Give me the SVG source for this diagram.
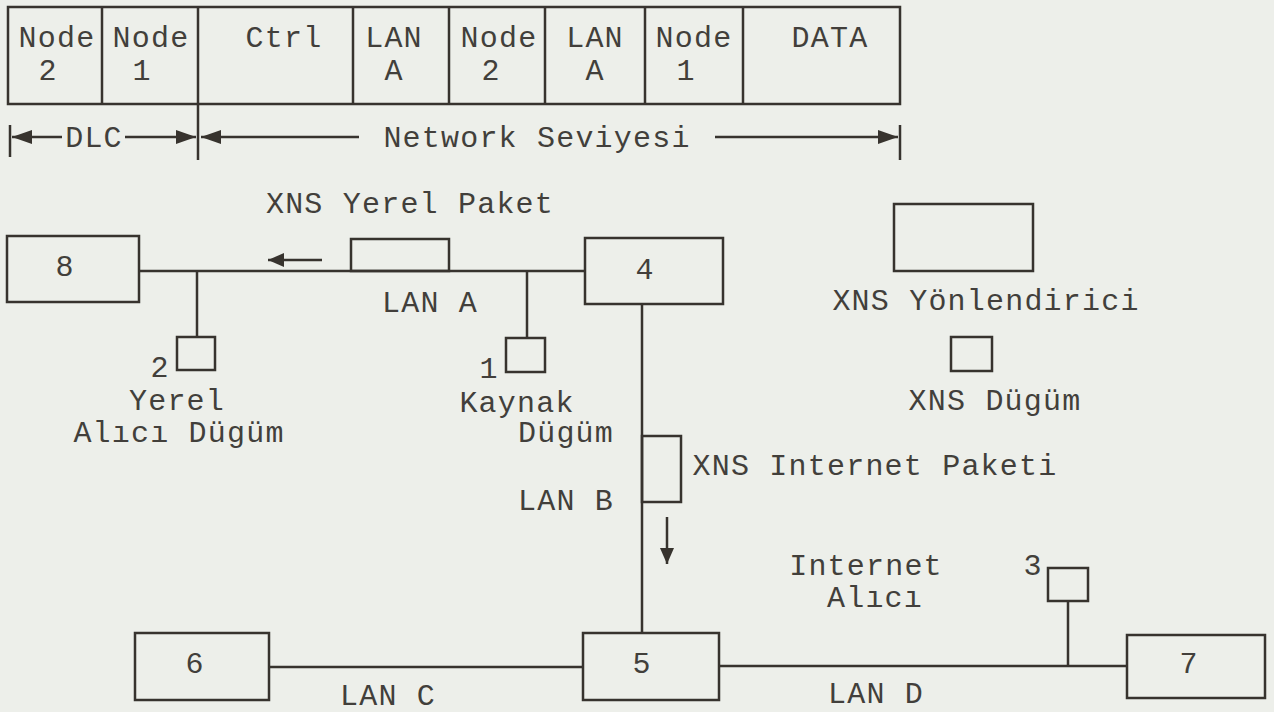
<svg xmlns="http://www.w3.org/2000/svg" width="1274" height="712" viewBox="0 0 1274 712">
<defs>
<style>
.bx{fill:none;stroke:#37332e;stroke-width:2.5}
.ln{fill:none;stroke:#37332e;stroke-width:2.5}
.t{font-family:"Liberation Mono","DejaVu Sans Mono",monospace;font-size:30px;letter-spacing:1.2px;fill:#423f3b;text-anchor:middle}
</style>
<marker id="ah" viewBox="0 0 20 14" refX="20" refY="7" markerWidth="20" markerHeight="14" markerUnits="userSpaceOnUse" orient="auto">
<path d="M0,0 L20,7 L0,14 z" fill="#37332e"/>
</marker>
<marker id="ahs" viewBox="0 0 16 14" refX="16" refY="7" markerWidth="16" markerHeight="14" markerUnits="userSpaceOnUse" orient="auto">
<path d="M0,0 L16,7 L0,14 z" fill="#37332e"/>
</marker>
</defs>
<rect width="1274" height="712" fill="#edefea"/>

<g id="packet-header">
<rect class="bx" x="8" y="7" width="892" height="97"/>
<line class="ln" x1="102" y1="7" x2="102" y2="104"/>
<line class="ln" x1="198" y1="7" x2="198" y2="160"/>
<line class="ln" x1="353" y1="7" x2="353" y2="104"/>
<line class="ln" x1="449" y1="7" x2="449" y2="104"/>
<line class="ln" x1="545" y1="7" x2="545" y2="104"/>
<line class="ln" x1="645" y1="7" x2="645" y2="104"/>
<line class="ln" x1="743" y1="7" x2="743" y2="104"/>
<text class="t" x="57" y="47">Node</text><text class="t" x="48" y="80">2</text>
<text class="t" x="151" y="47">Node</text><text class="t" x="142" y="80">1</text>
<text class="t" x="284" y="47">Ctrl</text>
<text class="t" x="394" y="47">LAN</text><text class="t" x="394" y="80">A</text>
<text class="t" x="499" y="47">Node</text><text class="t" x="491" y="80">2</text>
<text class="t" x="595" y="47">LAN</text><text class="t" x="595" y="80">A</text>
<text class="t" x="694" y="47">Node</text><text class="t" x="686" y="80">1</text>
<text class="t" x="830" y="47">DATA</text>
</g>

<g id="levels">
<line class="ln" x1="10" y1="125" x2="10" y2="157"/>
<line class="ln" x1="900" y1="125" x2="900" y2="160"/>
<text class="t" x="94" y="147">DLC</text>
<text class="t" x="537" y="147">Network Seviyesi</text>
</g>

<g id="node8"><rect class="bx" x="7" y="236" width="132" height="66"/><text class="t" x="65" y="276">8</text></g>
<g id="node4"><rect class="bx" x="585" y="238" width="138" height="66"/><text class="t" x="645" y="279">4</text></g>
<g id="node5"><rect class="bx" x="583" y="633" width="136" height="67"/><text class="t" x="642" y="673">5</text></g>
<g id="node6"><rect class="bx" x="135" y="633" width="134" height="67"/><text class="t" x="195" y="673">6</text></g>
<g id="node7"><rect class="bx" x="1127" y="635" width="138" height="63"/><text class="t" x="1189" y="673">7</text></g>

<g id="node2"><rect class="bx" x="177" y="337" width="38" height="33"/><text class="t" x="160" y="377">2</text>
<text class="t" x="177" y="410">Yerel</text><text class="t" x="179" y="442">Alıcı Dügüm</text></g>
<g id="node1"><rect class="bx" x="506" y="338" width="39" height="34"/><text class="t" x="489" y="378">1</text>
<text class="t" x="517" y="412">Kaynak</text><text class="t" x="566" y="442">Dügüm</text></g>
<g id="node3"><rect class="bx" x="1048" y="568" width="40" height="33"/><text class="t" x="1033" y="575">3</text>
<text class="t" x="866" y="575">Internet</text><text class="t" x="875" y="607">Alıcı</text></g>

<g id="legend-router"><rect class="bx" x="894" y="204" width="139" height="67"/><text class="t" x="986" y="310">XNS Yönlendirici</text></g>
<g id="legend-node"><rect class="bx" x="951" y="337" width="41" height="34"/><text class="t" x="995" y="410">XNS Dügüm</text></g>

<g id="local-packet"><rect class="bx" x="351" y="239" width="98" height="32"/><text class="t" x="410" y="213">XNS Yerel Paket</text></g>
<g id="internet-packet"><rect class="bx" x="642" y="436" width="39" height="66"/><text class="t" x="875" y="475">XNS Internet Paketi</text></g>

<g id="connectors">
<line class="ln" x1="62" y1="137" x2="12" y2="137" marker-end="url(#ah)"/>
<line class="ln" x1="125" y1="137" x2="196" y2="137" marker-end="url(#ah)"/>
<line class="ln" x1="359" y1="137" x2="201" y2="137" marker-end="url(#ah)"/>
<line class="ln" x1="715" y1="137" x2="898" y2="137" marker-end="url(#ah)"/>
<line class="ln" x1="139" y1="271" x2="585" y2="271"/>
<line class="ln" x1="197" y1="271" x2="197" y2="337"/>
<line class="ln" x1="527" y1="271" x2="527" y2="338"/>
<line class="ln" x1="322" y1="260" x2="268" y2="260" marker-end="url(#ahs)"/>
<line class="ln" x1="642" y1="304" x2="642" y2="633"/>
<line class="ln" x1="667" y1="517" x2="667" y2="564" marker-end="url(#ahs)"/>
<line class="ln" x1="269" y1="667" x2="583" y2="667"/>
<line class="ln" x1="719" y1="666" x2="1127" y2="666"/>
<line class="ln" x1="1068" y1="601" x2="1068" y2="666"/>
<text class="t" x="430" y="312">LAN A</text>
<text class="t" x="566" y="510">LAN B</text>
<text class="t" x="388" y="705">LAN C</text>
<text class="t" x="876" y="703">LAN D</text>
</g>
</svg>
